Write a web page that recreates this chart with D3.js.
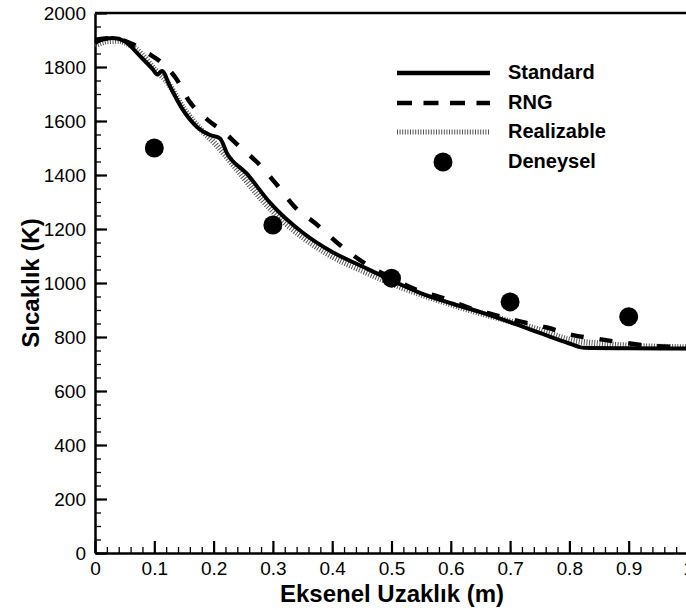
<!DOCTYPE html>
<html>
<head>
<meta charset="utf-8">
<script src="https://cdn.jsdelivr.net/npm/d3@7"></script>
<style>
  html, body { margin: 0; padding: 0; background: #fff; }
  svg { display: block; font-family: "Liberation Sans", Arial, Helvetica, sans-serif; }
</style>
</head>
<body>
<svg id="chart" width="686" height="610"></svg>
<script>
// Axial temperature profiles: three turbulence models vs. measurements
const xTicks = [0, 0.1, 0.2, 0.3, 0.4, 0.5, 0.6, 0.7, 0.8, 0.9, 1];
const yTicks = [0, 200, 400, 600, 800, 1000, 1200, 1400, 1600, 1800, 2000];

const standardX = [0, 0.01, 0.03, 0.05, 0.076, 0.098, 0.105, 0.113, 0.126, 0.148, 0.172, 0.194, 0.211, 0.222, 0.256, 0.295, 0.35, 0.4, 0.45, 0.5, 0.55, 0.6, 0.65, 0.7, 0.75, 0.8, 0.825, 0.9, 1.0];
const standardT = [1890, 1900, 1907, 1895, 1840, 1790, 1772, 1785, 1730, 1642, 1578, 1548, 1535, 1483, 1405, 1298, 1187, 1115, 1062, 1010, 962, 925, 892, 855, 815, 776, 760, 758, 757];

const rngX = [0, 0.03, 0.06, 0.09, 0.113, 0.135, 0.16, 0.19, 0.219, 0.241, 0.273, 0.307, 0.337, 0.371, 0.413, 0.459, 0.5, 0.543, 0.587, 0.632, 0.675, 0.72, 0.762, 0.806, 0.848, 0.894, 0.939, 0.981, 1.0];
const rngT = [1900, 1907, 1888, 1850, 1815, 1763, 1670, 1604, 1556, 1511, 1448, 1363, 1281, 1222, 1141, 1067, 1018, 974, 944, 907, 881, 856, 835, 807, 793, 778, 767, 763, 762];

const realizableX = [0, 0.02, 0.04, 0.06, 0.08, 0.1, 0.12, 0.15, 0.18, 0.2, 0.22, 0.25, 0.28, 0.3, 0.35, 0.4, 0.45, 0.5, 0.55, 0.6, 0.65, 0.7, 0.75, 0.8, 0.85, 0.9, 0.95, 1.0];
const realizableT = [1880, 1895, 1897, 1880, 1845, 1792, 1750, 1645, 1565, 1522, 1472, 1392, 1312, 1265, 1170, 1098, 1046, 998, 957, 921, 888, 858, 826, 790, 776, 768, 764, 762];

const expX = [0.1, 0.3, 0.5, 0.7, 0.9];
const expT = [1500, 1215, 1018, 930, 875];

const legendLabels = ["Standard", "RNG", "Realizable", "Deneysel"];

const svg = d3.select("#chart");
const plotLeft = 95, plotRight = 688, plotTop = 13, plotBottom = 553;

const x = d3.scaleLinear().domain([0, 1]).range([plotLeft, plotRight]);
const y = d3.scaleLinear().domain([0, 2000]).range([plotBottom, plotTop]);

const font = "'Liberation Sans', Arial, Helvetica, sans-serif";

// minor ticks
const xMinor = d3.range(0, 1.0001, 0.02);
const yMinor = d3.range(0, 2000.001, 50);

svg.append("g")
  .attr("transform", `translate(0,${plotBottom})`)
  .call(d3.axisBottom(x).tickValues(xMinor).tickSize(-6).tickFormat(""))
  .call(g => g.select(".domain").remove())
  .call(g => g.selectAll("line").attr("stroke", "#000").attr("stroke-width", 1.3));

svg.append("g")
  .attr("transform", `translate(${plotLeft},0)`)
  .call(d3.axisLeft(y).tickValues(yMinor).tickSize(-6).tickFormat(""))
  .call(g => g.select(".domain").remove())
  .call(g => g.selectAll("line").attr("stroke", "#000").attr("stroke-width", 1.3));

// major ticks with labels
svg.append("g")
  .attr("transform", `translate(0,${plotBottom})`)
  .call(d3.axisBottom(x).tickValues(xTicks).tickSize(-12).tickSizeOuter(0).tickPadding(9)
    .tickFormat(d => d === 0 ? "0" : d === 1 ? "1" : d3.format(".1f")(d)))
  .call(g => g.select(".domain").attr("stroke", "#000").attr("stroke-width", 2.5))
  .call(g => g.selectAll("line").attr("stroke", "#000").attr("stroke-width", 2.2))
  .call(g => g.selectAll("text").attr("font-size", 19).attr("font-family", font).attr("fill", "#000"));

svg.append("g")
  .attr("transform", `translate(${plotLeft},0)`)
  .call(d3.axisLeft(y).tickValues(yTicks).tickSize(-12).tickSizeOuter(0).tickPadding(9)
    .tickFormat(d3.format("d")))
  .call(g => g.select(".domain").attr("stroke", "#000").attr("stroke-width", 2.5))
  .call(g => g.selectAll("line").attr("stroke", "#000").attr("stroke-width", 2.2))
  .call(g => g.selectAll("text").attr("font-size", 19).attr("font-family", font).attr("fill", "#000"));

// top frame line
svg.append("line")
  .attr("x1", x(0)).attr("x2", x(1)).attr("y1", y(2000)).attr("y2", y(2000))
  .attr("stroke", "#000").attr("stroke-width", 2.5);

const line = d3.line().x(d => x(d[0])).y(d => y(d[1])).curve(d3.curveMonotoneX);
const zip = (a, b) => a.map((v, i) => [v, b[i]]);

const plot = svg.append("g");

// Realizable: hatched stroke
plot.append("path")
  .datum(zip(realizableX, realizableT))
  .attr("d", line)
  .attr("fill", "none")
  .attr("stroke", "#555")
  .attr("stroke-width", 6)
  .attr("stroke-dasharray", "1 1.6");

// RNG: dashed
plot.append("path")
  .datum(zip(rngX, rngT))
  .attr("d", line)
  .attr("fill", "none")
  .attr("stroke", "#000")
  .attr("stroke-width", 4.5)
  .attr("stroke-dasharray", "13 16");

// Standard: solid
plot.append("path")
  .datum(zip(standardX, standardT))
  .attr("d", line)
  .attr("fill", "none")
  .attr("stroke", "#000")
  .attr("stroke-width", 4)
  .attr("stroke-linejoin", "round");

// measurements
plot.selectAll("circle.exp")
  .data(zip(expX, expT))
  .join("circle")
  .attr("class", "exp")
  .attr("cx", d => x(d[0]))
  .attr("cy", d => y(d[1]))
  .attr("r", 9.5)
  .attr("fill", "#000");

// legend
const lg = svg.append("g");
const rowY = [73, 103, 132, 162];
const lx1 = 397, lx2 = 490, tx = 508;

lg.append("line").attr("x1", lx1).attr("x2", lx2).attr("y1", rowY[0]).attr("y2", rowY[0])
  .attr("stroke", "#000").attr("stroke-width", 4.5);
lg.append("line").attr("x1", lx1).attr("x2", lx2).attr("y1", rowY[1]).attr("y2", rowY[1])
  .attr("stroke", "#000").attr("stroke-width", 4.5).attr("stroke-dasharray", "15 11.5");
lg.append("line").attr("x1", lx1).attr("x2", lx2).attr("y1", rowY[2]).attr("y2", rowY[2])
  .attr("stroke", "#555").attr("stroke-width", 5).attr("stroke-dasharray", "1 1.6");
lg.append("circle").attr("cx", 443).attr("cy", rowY[3]).attr("r", 9.5).attr("fill", "#000");

lg.selectAll("text")
  .data(legendLabels)
  .join("text")
  .attr("x", tx)
  .attr("y", (d, i) => rowY[i] + 6)
  .attr("font-size", 20)
  .attr("font-weight", "bold")
  .attr("font-family", font)
  .attr("fill", "#000")
  .text(d => d);

// axis titles
svg.append("text")
  .attr("x", 392).attr("y", 602)
  .attr("text-anchor", "middle")
  .attr("font-size", 24).attr("font-weight", "bold").attr("font-family", font)
  .text("Eksenel Uzaklık (m)");

svg.append("text")
  .attr("transform", `translate(39,${(plotTop + plotBottom) / 2}) rotate(-90)`)
  .attr("text-anchor", "middle")
  .attr("font-size", 24).attr("font-weight", "bold").attr("font-family", font)
  .text("Sıcaklık (K)");
</script>
</body>
</html>
